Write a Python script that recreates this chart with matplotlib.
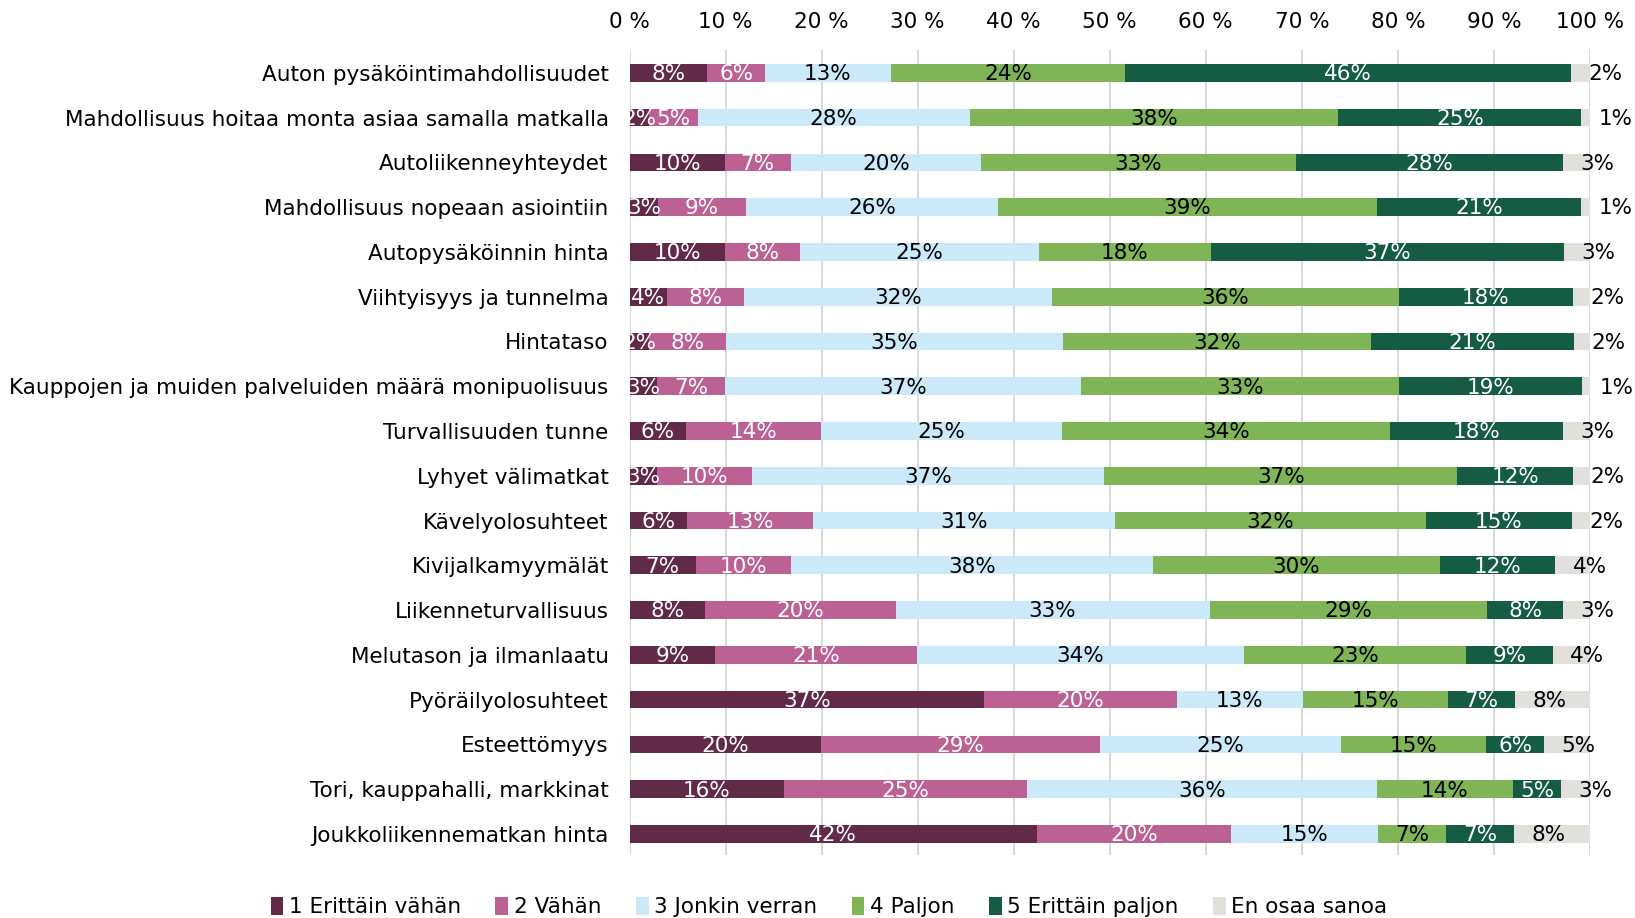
import matplotlib
matplotlib.use("Agg")
import matplotlib.pyplot as plt
from matplotlib.patches import Patch
import numpy as np

categories = [
    "Auton pysäköintimahdollisuudet",
    "Mahdollisuus hoitaa monta asiaa samalla matkalla",
    "Autoliikenneyhteydet",
    "Mahdollisuus nopeaan asiointiin",
    "Autopysäköinnin hinta",
    "Viihtyisyys ja tunnelma",
    "Hintataso",
    "Kauppojen ja muiden palveluiden määrä monipuolisuus",
    "Turvallisuuden tunne",
    "Lyhyet välimatkat",
    "Kävelyolosuhteet",
    "Kivijalkamyymälät",
    "Liikenneturvallisuus",
    "Melutason ja ilmanlaatu",
    "Pyöräilyolosuhteet",
    "Esteettömyys",
    "Tori, kauppahalli, markkinat",
    "Joukkoliikennematkan hinta",
]

series_names = ["1 Erittäin vähän", "2 Vähän", "3 Jonkin verran",
                "4 Paljon", "5 Erittäin paljon", "En osaa sanoa"]

s1_erittain_vahan = [8.1, 2.0, 9.9, 3.0, 9.9, 3.9, 2.0, 2.9, 5.9, 2.9, 6.0, 6.9, 7.9, 8.9, 36.9, 19.9, 16.1, 42.4]
s2_vahan = [6.0, 5.1, 6.9, 9.1, 7.9, 8.0, 8.0, 7.0, 14.0, 9.9, 13.1, 9.9, 19.8, 21.0, 20.1, 29.1, 25.3, 20.2]
s3_jonkin_verran = [13.1, 28.3, 19.8, 26.3, 24.8, 32.1, 35.1, 37.1, 25.1, 36.6, 31.4, 37.7, 32.7, 34.1, 13.1, 25.1, 36.4, 15.3]
s4_paljon = [24.4, 38.4, 32.8, 39.4, 17.9, 36.1, 32.1, 33.1, 34.2, 36.8, 32.4, 29.9, 28.9, 23.1, 15.1, 15.1, 14.2, 7.1]
s5_erittain_paljon = [46.4, 25.3, 27.8, 21.3, 36.8, 18.1, 21.1, 19.1, 18.0, 12.0, 15.2, 12.0, 7.9, 9.0, 7.0, 6.0, 5.0, 7.1]
s6_en_osaa = [2.0, 0.9, 2.8, 0.9, 2.7, 1.8, 1.7, 0.8, 2.8, 1.8, 1.9, 3.6, 2.8, 3.9, 7.8, 4.8, 3.0, 7.9]

x_ticks = [0, 10, 20, 30, 40, 50, 60, 70, 80, 90, 100]
x_tick_labels = ["0 %", "10 %", "20 %", "30 %", "40 %", "50 %", "60 %", "70 %", "80 %", "90 %", "100 %"]

series = [s1_erittain_vahan, s2_vahan, s3_jonkin_verran, s4_paljon, s5_erittain_paljon, s6_en_osaa]
colors = ["#622A49", "#BC6194", "#CCE9FA", "#7FB457", "#155C42", "#E2E0DA"]
text_colors = ["white", "white", "black", "black", "white", "black"]

plt.rcParams['font.family'] = ['DejaVu Sans']
FS = 15.5

fig = plt.figure(figsize=(16.35, 9.18), dpi=100)
ax = fig.add_axes([629.5 / 1635, 1 - 855 / 918, (1590 - 629.5) / 1635, (855 - 50) / 918])

y = np.arange(len(categories))
left = np.zeros(len(categories))
for i, (vals, col) in enumerate(zip(series, colors)):
    vals = np.array(vals)
    ax.barh(y, vals, left=left, height=0.395, color=col, edgecolor='none', zorder=3)
    for j, v in enumerate(vals):
        if i < 5:
            xc = left[j] + v / 2
            ax.text(xc, y[j] + 0.03, f"{int(round(v))}%", ha='center', va='center',
                    color=text_colors[i], fontsize=FS, zorder=4, clip_on=True)
        else:
            xc = left[j] + 3.6
            ax.text(xc, y[j] + 0.03, f"{int(round(v))}%", ha='center', va='center',
                    color=text_colors[i], fontsize=FS, zorder=4, clip_on=False)
    left = left + vals

ax.set_xlim(0, 100)
ax.set_ylim(17.47, -0.51)
ax.set_yticks(y)
ax.set_yticklabels(categories, fontsize=FS)
ax.xaxis.tick_top()
ax.set_xticks(x_ticks)
ax.set_xticklabels(x_tick_labels, fontsize=FS)
ax.tick_params(axis='both', length=0)
ax.tick_params(axis='x', pad=13)
ax.tick_params(axis='y', pad=15)
for s in ax.spines.values():
    s.set_visible(False)
ax.grid(axis='x', color='#D9D9D9', linewidth=1.5, zorder=0)
ax.set_axisbelow(True)

handles = [Patch(facecolor=c, edgecolor='none') for c in colors]
fig.legend(handles, series_names, loc='center', bbox_to_anchor=(0.507, 0.012),
           ncol=6, frameon=False, fontsize=FS, handlelength=0.6, handleheight=0.9,
           handletextpad=0.25, columnspacing=1.6)

fig.savefig("out.png", dpi=100)
